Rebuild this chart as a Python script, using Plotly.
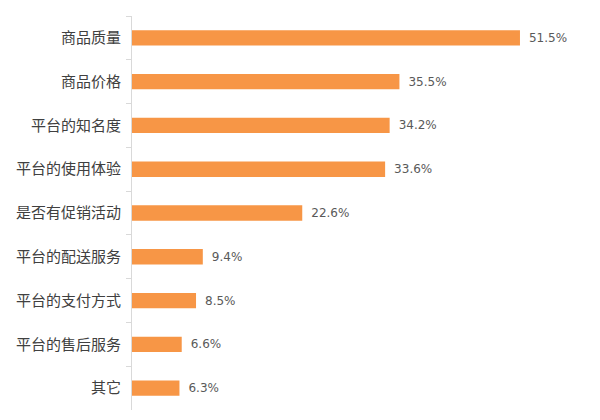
import plotly.graph_objects as go

# survey factors, top to bottom
factors = ["商品质量", "商品价格", "平台的知名度", "平台的使用体验", "是否有促销活动",
           "平台的配送服务", "平台的支付方式", "平台的售后服务", "其它"]
shares = [51.5, 35.5, 34.2, 33.6, 22.6, 9.4, 8.5, 6.6, 6.3]
share_labels = ["51.5%", "35.5%", "34.2%", "33.6%", "22.6%", "9.4%", "8.5%", "6.6%", "6.3%"]

fig = go.Figure()
fig.add_trace(go.Bar(
    x=shares,
    y=factors,
    orientation="h",
    marker_color="#F79646",
    marker_line_width=0,
    text=["\u2002" + s for s in share_labels],
    textposition="outside",
    textfont=dict(size=12, color="#595959", family="DejaVu Sans"),
    cliponaxis=False,
    hoverinfo="skip",
))

# page body adds ~8px offset, so the figure is a bit smaller than the window
fig.update_layout(
    width=592, height=412,
    margin=dict(l=118, r=16, t=8, b=10),
    plot_bgcolor="white", paper_bgcolor="white",
    bargap=0.65,
    showlegend=False,
    font=dict(family="Noto Sans CJK SC", size=15, color="#404040"),
)
fig.update_xaxes(range=[0, 60], visible=False)
fig.update_yaxes(
    autorange="reversed",
    showline=True, linecolor="#D9D9D9", linewidth=1,
    ticks="outside", tickson="boundaries", ticklen=5, tickcolor="#D9D9D9",
    ticklabelstandoff=7,
    showgrid=False,
)

fig.write_html("out.html")
